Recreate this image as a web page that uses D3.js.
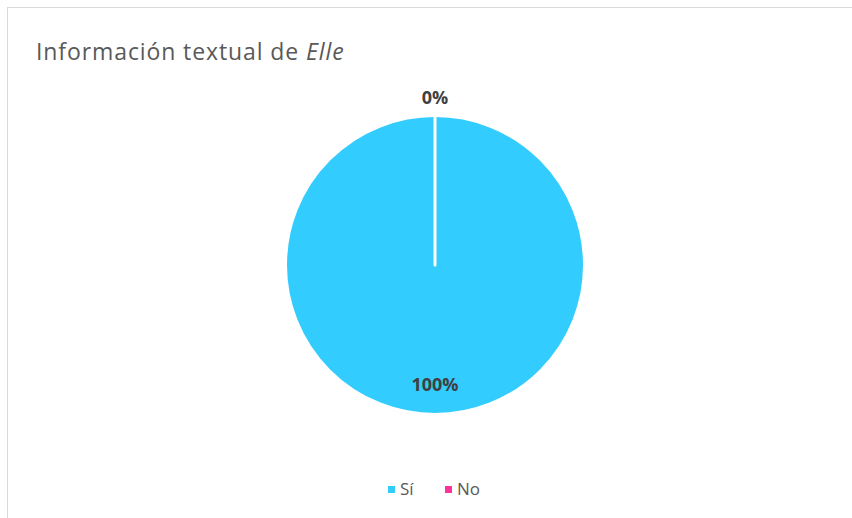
<!DOCTYPE html>
<html>
<head>
<meta charset="utf-8">
<script src="https://cdn.jsdelivr.net/npm/d3@7"></script>
<style>
  body { margin: 0; background: #fff; }
  svg { display: block; font-family: "Open Sans", "Liberation Sans", sans-serif; }
</style>
</head>
<body>
<div id="chart"></div>
<script>
// data
const categories = ["Sí", "No"];
const values = [100, 0];
const percentLabels = ["100%", "0%"];
const colors = ["#33ccff", "#ff3399"];

const width = 852, height = 518;

const svg = d3.select("#chart").append("svg")
	.attr("width", width)
	.attr("height", height);

// chart frame
svg.append("rect")
	.attr("x", 7.5)
	.attr("y", 7.5)
	.attr("width", width)
	.attr("height", height)
	.attr("fill", "#fff")
	.attr("stroke", "#d9d9d9")
	.attr("stroke-width", 1);

// title
const title = svg.append("text")
	.attr("x", 36)
	.attr("y", 60)
	.attr("fill", "#595959")
	.attr("font-size", "23px")
	.attr("letter-spacing", "0.9px");
title.append("tspan").text("Información textual de ");
title.append("tspan").attr("font-style", "italic").text("Elle");

const cx = 435, cy = 265, radius = 149.5;

const pie = d3.pie().sort(null).value(d => d.value);
const data = categories.map((c, i) => ({ name: c, value: values[i], label: percentLabels[i], color: colors[i] }));
const arcs = pie(data);

const arc = d3.arc().innerRadius(0).outerRadius(radius);
const inLabelArc = d3.arc().innerRadius(radius * 0.8).outerRadius(radius * 0.8);
const outLabelArc = d3.arc().innerRadius(radius + 18).outerRadius(radius + 18);

const g = svg.append("g").attr("transform", `translate(${cx},${cy})`);

g.selectAll("path.slice")
	.data(arcs)
	.join("path")
	.attr("class", "slice")
	.attr("d", arc)
	.attr("fill", d => d.data.color)
	.attr("stroke", "#fff")
	.attr("stroke-width", 3)
	.attr("stroke-linejoin", "round");

// small slices get their label outside the pie
function labelPos(d) {
	const p = (d.endAngle - d.startAngle) > 0.3 ? inLabelArc.centroid(d) : outLabelArc.centroid(d);
	return p.map(v => Math.round(v * 100) / 100);
}

g.selectAll("text.lbl")
	.data(arcs)
	.join("text")
	.attr("class", "lbl")
	.attr("x", d => labelPos(d)[0])
	.attr("y", d => labelPos(d)[1])
	.attr("text-anchor", "middle")
	.attr("dy", "0.35em")
	.attr("fill", "#404040")
	.attr("font-size", "18px")
	.attr("font-weight", "bold")
	.text(d => d.data.label);

// legend
const legend = svg.append("g").attr("transform", "translate(388,489)");
const items = legend.selectAll("g")
	.data(data)
	.join("g")
	.attr("transform", (d, i) => `translate(${i * 57},0)`);
items.append("rect")
	.attr("x", 0)
	.attr("y", -3)
	.attr("width", 7)
	.attr("height", 7)
	.attr("fill", d => d.color);
items.append("text")
	.attr("x", 12)
	.attr("dy", "0.35em")
	.attr("fill", "#595959")
	.attr("font-size", "17px")
	.text(d => d.name);
</script>
</body>
</html>
